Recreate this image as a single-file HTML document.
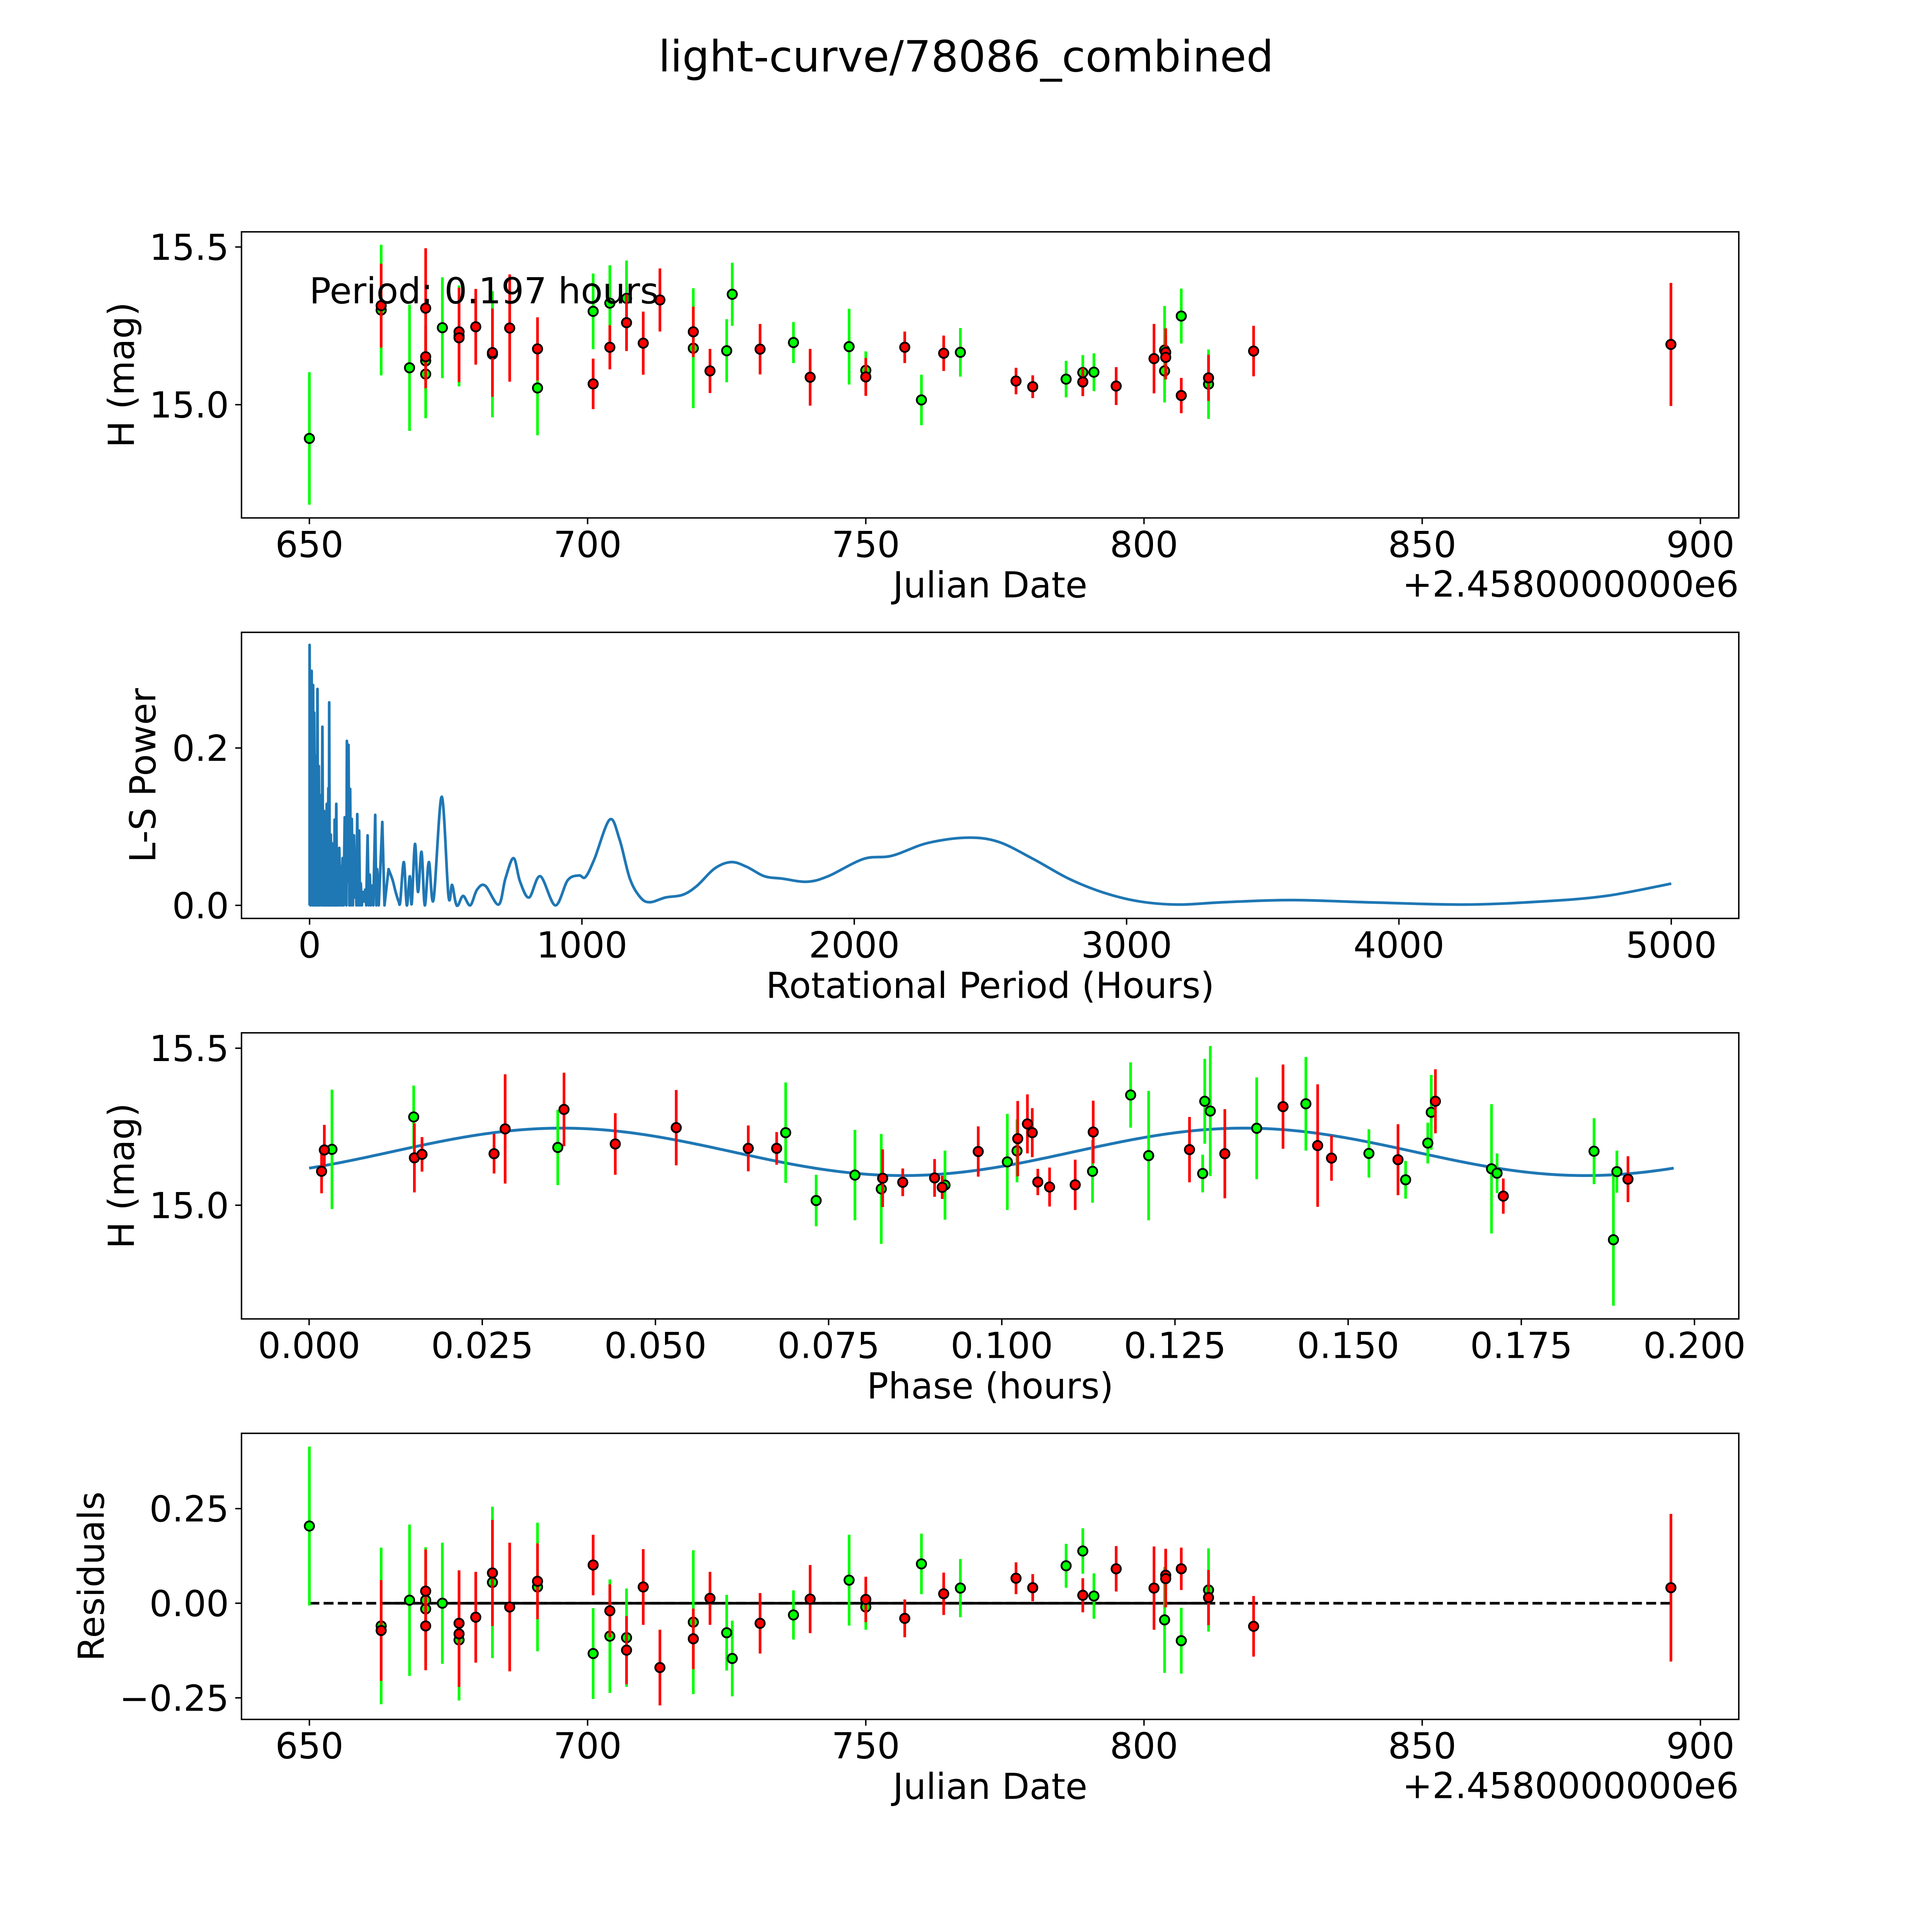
<!DOCTYPE html>
<html><head><meta charset="utf-8"><title>light-curve/78086_combined</title>
<style>
html,body{margin:0;padding:0;background:#fff;overflow:hidden;width:100%;height:100%;}
svg{display:block;position:absolute;left:0;top:0;width:100vw;height:100vh;font-family:"DejaVu Sans","Liberation Sans",sans-serif;}
</style></head>
<body>
<svg id="fig" xmlns="http://www.w3.org/2000/svg" viewBox="0 0 5400 5400" preserveAspectRatio="none">
<rect x="0" y="0" width="5400" height="5400" fill="#fff"/>
<text x="2700" y="200" font-size="120" text-anchor="middle">light-curve/78086_combined</text>
</svg>
<script>
// ---------- Light curve data (Julian date offset, H mag, error) ----------
const lcGreenDay = [650,662.9,668,670.9,670.9,673.9,676.9,682.9,691,701,704,707,719,725,726,737,747,750,760,767,786,789,791,803.7,803.7,806.7,811.6];
const lcGreenMag = [14.893,15.30,15.117,15.139,15.097,15.244,15.218,15.16,15.053,15.296,15.322,15.337,15.179,15.171,15.35,15.197,15.184,15.109,15.015,15.166,15.081,15.102,15.103,15.173,15.107,15.281,15.065];
const lcGreenErr = [0.21,0.207,0.2,0.1,0.14,0.16,0.16,0.2,0.15,0.12,0.12,0.12,0.19,0.1,0.1,0.065,0.12,0.06,0.08,0.077,0.058,0.055,0.06,0.14,0.1,0.087,0.11];
const lcRedDay = [662.9,670.9,670.9,676.9,676.9,679.9,682.9,686,691,701,704,707,710,713,719,722,731,740,750,757,764,777,780,789,795,801.8,803.9,803.9,806.7,811.6,819.7,894.7];
const lcRedMag = [15.314,15.306,15.152,15.231,15.212,15.247,15.165,15.243,15.177,15.066,15.182,15.26,15.195,15.332,15.231,15.107,15.176,15.087,15.088,15.182,15.163,15.075,15.057,15.072,15.059,15.146,15.166,15.15,15.029,15.085,15.17,15.191];
const lcRedErr = [0.133,0.19,0.1,0.14,0.14,0.12,0.14,0.17,0.1,0.08,0.07,0.09,0.1,0.1,0.08,0.07,0.08,0.09,0.06,0.05,0.056,0.042,0.036,0.045,0.06,0.11,0.076,0.07,0.056,0.073,0.08,0.195];

// ---------- Periodogram data (period hours, L-S power) ----------
const lsPeriod = [0,0,3,7.6,10,13,15,17,20,24,26,29,31,34,37,41,44,47,50,53,56,58,60,63,66,69,71,72,74,78,80,82,86,88,90,92,95,98,101,104,106,109,113,116,119,121,125,129,131,134,135,137,140,143,146,149,152,155,159,163,167,170,172,175,179,182,185,188,192,196,200,204,208,213,217,221,225,229,234,241,245,248,254,267,275,
290,305,316,327,333,346,357,368,375,387,398,411,423,438,455,485,510,523,536,545,564,590,615,645,694,719,749,773,806,847,902,948,989,1013,1046,1102,1138,1176,1215,1250,1307,1371,1423,1488,1548,1605,1670,1735,1826,1904,2034,2138,2267,2410,2527,2657,2787,2917,3047,3190,3359,3605,3904,4241,4527,4761,5000];
const lsPower = [0,0.331,0,0.298,0,0.28,0,0.245,0,0.19,0,0.275,0,0.177,0,0.14,0,0.227,0,0.12,0,0.097,0,0.129,0,0.149,0,0.258,0,0.09,0,0.079,0,0.06,0,0.109,0,0.129,0,0.05,0,0.073,0,0.05,0,0.06,0,0.112,0.02,0.03,0,0.209,0.03,0.204,0,0.148,0,0.110,0,0.089,0.01,0.03,0,0.116,0,0.095,0,0.028,0,0.017,0.005,0.02,0,0.089,0,0.039,0,0.025,0,0.115,0,0.046,0,0.106,0,
0.046,0.032,0.017,0.005,0.005,0.055,0,0.037,0.002,0.078,0.017,0.068,0,0.055,0.007,0.138,0.012,0.026,0.004,0,0.012,0,0.02,0.025,0.001,0.034,0.060,0.030,0.010,0.037,0,0.032,0.038,0.036,0.059,0.109,0.084,0.034,0.010,0.004,0.010,0.0135,0.025,0.047,0.055,0.049,0.037,0.034,0.030,0.037,0.059,0.063,0.079,0.086,0.081,0.059,0.034,0.016,0.005,0.001,0.004,0.0067,0.0037,0.001,0.005,0.012,0.0276];
const lsSmoothFrom = 85; // index where the smooth (long-period) section begins

// ---------- Phased data (phase hours, H mag, error) ----------
const phGreenPhase = [0.0033,0.0151,0.0359,0.0688,0.0732,0.0788,0.0826,0.0918,0.1008,0.1022,0.1131,0.1186,0.1212,0.129,0.1293,0.1301,0.1368,0.1439,0.153,0.1583,0.1615,0.162,0.1707,0.1715,0.1855,0.1883,0.1888];
const phGreenMag = [15.178,15.281,15.184,15.231,15.015,15.096,15.052,15.064,15.138,15.173,15.108,15.351,15.158,15.101,15.331,15.300,15.245,15.323,15.165,15.081,15.198,15.296,15.116,15.102,15.172,14.89,15.107];
const phGreenErr = [0.19,0.1,0.12,0.16,0.082,0.144,0.175,0.11,0.153,0.1,0.1,0.104,0.206,0.06,0.135,0.207,0.162,0.149,0.077,0.06,0.065,0.119,0.206,0.063,0.105,0.21,0.067];
const phRedPhase = [0.0018,0.0022,0.0152,0.0163,0.0267,0.0283,0.0368,0.0442,0.053,0.0634,0.0675,0.0828,0.0857,0.0903,0.0914,0.0966,0.1023,0.1037,0.1044,0.1052,0.1069,0.1106,0.1132,0.1271,0.1322,0.1406,0.1456,0.1476,0.1572,0.1626,0.1724,0.1904];
const phRedMag = [15.108,15.176,15.151,15.162,15.164,15.243,15.305,15.195,15.247,15.181,15.181,15.086,15.073,15.087,15.057,15.171,15.212,15.259,15.231,15.074,15.058,15.065,15.233,15.177,15.164,15.314,15.19,15.15,15.145,15.331,15.029,15.083];
const phRedErr = [0.07,0.08,0.11,0.055,0.063,0.174,0.117,0.098,0.12,0.073,0.052,0.092,0.044,0.06,0.037,0.08,0.12,0.094,0.078,0.042,0.062,0.08,0.1,0.104,0.142,0.134,0.195,0.072,0.113,0.102,0.056,0.073];
// fitted model parameters: [mean mag, amplitude, phase of peak, model period, max phase]
const fitParams = [15.17,0.0755,0.0365,0.0985,0.197];

// ---------- Residuals ----------
const resGreenDay = [650,662.9,668,670.9,670.9,673.9,676.9,682.9,691,701,704,707,719,725,726,737,747,750,760,767,786,789,791,803.7,806.7,811.6];
const resGreenVal = [0.204,-0.060,0.008,0.008,-0.015,0.0,-0.097,0.055,0.043,-0.133,-0.087,-0.091,-0.050,-0.078,-0.146,-0.031,0.061,-0.010,0.104,0.040,0.099,0.138,0.019,-0.044,-0.099,0.035];
const resGreenErr = [0.21,0.207,0.2,0.14,0.14,0.16,0.16,0.2,0.17,0.12,0.15,0.13,0.19,0.1,0.1,0.065,0.12,0.06,0.08,0.077,0.058,0.06,0.06,0.14,0.087,0.11];
const resRedDay = [662.9,670.9,670.9,676.9,676.9,679.9,682.9,686,691,701,704,707,710,713,719,722,731,740,750,757,764,777,780,789,795,801.8,803.9,803.9,806.7,811.6,819.7,894.7];
const resRedVal = [-0.072,0.032,-0.060,-0.053,-0.081,-0.037,0.080,-0.010,0.058,0.101,-0.020,-0.124,0.043,-0.170,-0.094,0.013,-0.053,0.011,0.010,-0.040,0.025,0.066,0.041,0.021,0.091,0.040,0.074,0.065,0.091,0.015,-0.061,0.041];
const resRedErr = [0.133,0.11,0.117,0.14,0.14,0.12,0.14,0.17,0.1,0.08,0.07,0.09,0.1,0.1,0.08,0.07,0.08,0.09,0.06,0.05,0.056,0.042,0.036,0.045,0.06,0.11,0.07,0.076,0.056,0.073,0.08,0.195];

// ---------- Axis ticks ----------
const jdTicks = [650,700,750,800,850,900];
const jdTickLabels = ["650","700","750","800","850","900"];
const magTicks = [15.0,15.5];
const magTickLabels = ["15.0","15.5"];
const lsXTicks = [0,1000,2000,3000,4000,5000];
const lsXTickLabels = ["0","1000","2000","3000","4000","5000"];
const lsYTicks = [0,0.2];
const lsYTickLabels = ["0.0","0.2"];
const phTicks = [0,0.025,0.05,0.075,0.1,0.125,0.15,0.175,0.2];
const phTickLabels = ["0.000","0.025","0.050","0.075","0.100","0.125","0.150","0.175","0.200"];
const resTicks = [-0.25,0,0.25];
const resTickLabels = ["\u22120.25","0.00","0.25"];

const NS = "http://www.w3.org/2000/svg";
const svg = document.getElementById("fig");
function mk(tag, attrs, parent){
  const e = document.createElementNS(NS, tag);
  for (const k in attrs) e.setAttribute(k, attrs[k]);
  (parent||svg).appendChild(e);
  return e;
}
function scale(d0,d1,p0,p1){ return v => p0 + (v-d0)/(d1-d0)*(p1-p0); }

const L = 675, R = 4860;
function makeAxes(name, top, bottom, xr, yr){
  const g = mk("g", {});
  
  
  return {g, top, bottom, sx: scale(xr[0],xr[1],L,R), sy: scale(yr[0],yr[1],bottom,top)};
}
function drawFrame(ax, name, xt, xl, yt, yl, xlabel, ylabel, ylabelX){
  const fr = mk("rect", {x:L, y:ax.top, width:R-L, height:ax.bottom-ax.top, fill:"none", stroke:"#000", "stroke-width":4}, ax.g);
  
  
  xt.forEach((v,i)=>{
    const x = ax.sx(v);
    const t = mk("line", {x1:x, x2:x, y1:ax.bottom, y2:ax.bottom+17.5, stroke:"#000", "stroke-width":4}, ax.g);
    
    
    const tl = mk("text", {x:x, y:ax.bottom+109, "font-size":100, "text-anchor":"middle"}, ax.g);
    tl.textContent = xl[i];
    
    
  });
  yt.forEach((v,i)=>{
    const y = ax.sy(v);
    const t = mk("line", {x1:L-17.5, x2:L, y1:y, y2:y, stroke:"#000", "stroke-width":4}, ax.g);
    
    
    const tl = mk("text", {x:L-35, y:y+36, "font-size":100, "text-anchor":"end"}, ax.g);
    tl.textContent = yl[i];
    
    
  });
  const xlab = mk("text", {x:(L+R)/2, y:ax.bottom+222, "font-size":100, "text-anchor":"middle"}, ax.g);
  xlab.textContent = xlabel;
  
  
  const cy = (ax.top+ax.bottom)/2;
  const ylab = mk("text", {x:ylabelX, y:cy, "font-size":100, "text-anchor":"middle", transform:"rotate(-90 "+ylabelX+" "+cy+")"}, ax.g);
  ylab.textContent = ylabel;
  
  
}
function drawErrSeries(ax, name, xs, ys, es, color){
  const g = mk("g", {}, ax.g);
  
  
  xs.forEach((v,i)=>{
    const x = ax.sx(v);
    const l = mk("line", {x1:x, x2:x, y1:ax.sy(ys[i]-es[i]), y2:ax.sy(ys[i]+es[i]), stroke:color, "stroke-width":7.5}, g);
    
    
  });
  xs.forEach((v,i)=>{
    const c = mk("circle", {cx:ax.sx(v), cy:ax.sy(ys[i]), r:13, fill:color, stroke:"#000", "stroke-width":5}, g);
    
    
  });
}
function offsetText(ax){
  const t = mk("text", {x:R, y:ax.bottom+220, "font-size":100, "text-anchor":"end"}, ax.g);
  t.textContent = "+2.4580000000e6";
  
  
}

// ---- Panel 1: light curve ----
const a1 = makeAxes("light-curve-panel", 648, 1447.6, [637.8,906.9], [14.641,15.548]);
drawFrame(a1, "light-curve", jdTicks, jdTickLabels, magTicks, magTickLabels, "Julian Date", "H (mag)", 374);
offsetText(a1);
drawErrSeries(a1, "green-observations", lcGreenDay, lcGreenMag, lcGreenErr, "#00ff00");
drawErrSeries(a1, "red-observations", lcRedDay, lcRedMag, lcRedErr, "#ff0000");
const per = mk("text", {x:a1.sx(650), y:848, "font-size":100}, a1.g);
per.textContent = "Period: 0.197 hours";



// ---- Panel 2: periodogram ----
const a2 = makeAxes("periodogram-panel", 1767.4, 2567, [-250,5248], [-0.0166,0.347]);
drawFrame(a2, "periodogram", lsXTicks, lsXTickLabels, lsYTicks, lsYTickLabels, "Rotational Period (Hours)", "L-S Power", 434);
(function(){
  const px = lsPeriod.map(v=>a2.sx(v)), py = lsPower.map(v=>a2.sy(v));
  let d = "M" + px[0] + " " + py[0];
  for (let i=1;i<=lsSmoothFrom;i++) d += " L" + px[i] + " " + py[i];
  for (let i=lsSmoothFrom;i<px.length-1;i++){
    const p0x = px[Math.max(i-1,lsSmoothFrom)], p0y = py[Math.max(i-1,lsSmoothFrom)];
    const p3x = px[Math.min(i+2,px.length-1)], p3y = py[Math.min(i+2,px.length-1)];
    const c1x = px[i] + (px[i+1]-p0x)/6, c1y = py[i] + (py[i+1]-p0y)/6;
    const c2x = px[i+1] - (p3x-px[i])/6, c2y = py[i+1] - (p3y-py[i])/6;
    d += " C" + c1x + " " + c1y + " " + c2x + " " + c2y + " " + px[i+1] + " " + py[i+1];
  }
  const p = mk("path", {d:d, fill:"none", stroke:"#1f77b4", "stroke-width":7.5, "stroke-linejoin":"round"}, a2.g);
  
  
})();

// ---- Panel 3: phased ----
const a3 = makeAxes("phase-panel", 2886.8, 3686.4, [-0.00976,0.2064], [14.638,15.549]);
drawFrame(a3, "phase", phTicks, phTickLabels, magTicks, magTickLabels, "Phase (hours)", "H (mag)", 374);
(function(){
  let d = "";
  const n = 300;
  for (let i=0;i<=n;i++){
    const ph = fitParams[4]*i/n;
    const m = fitParams[0] + fitParams[1]*Math.cos(2*Math.PI*(ph-fitParams[2])/fitParams[3]);
    d += (i? " L":"M") + a3.sx(ph) + " " + a3.sy(m);
  }
  const p = mk("path", {d:d, fill:"none", stroke:"#1f77b4", "stroke-width":8}, a3.g);
  
  
})();
drawErrSeries(a3, "green-phased", phGreenPhase, phGreenMag, phGreenErr, "#00ff00");
drawErrSeries(a3, "red-phased", phRedPhase, phRedMag, phRedErr, "#ff0000");

// ---- Panel 4: residuals ----
const a4 = makeAxes("residuals-panel", 4006.2, 4805.8, [637.8,906.9], [-0.307,0.449]);
drawFrame(a4, "residuals", jdTicks, jdTickLabels, resTicks, resTickLabels, "Julian Date", "Residuals", 290);
offsetText(a4);
const allDays = resGreenDay.concat(resRedDay);
const dMin = Math.min.apply(null, allDays), dMax = Math.max.apply(null, allDays);
const zl = mk("line", {x1:a4.sx(dMin), x2:a4.sx(dMax), y1:a4.sy(0), y2:a4.sy(0), stroke:"#000", "stroke-width":7.5, "stroke-dasharray":"27.75 12"}, a4.g);


const zl2 = mk("line", {x1:a4.sx(662.9), x2:a4.sx(811.6), y1:a4.sy(0), y2:a4.sy(0), stroke:"#000", "stroke-width":7.5}, a4.g);


drawErrSeries(a4, "green-residuals", resGreenDay, resGreenVal, resGreenErr, "#00ff00");
drawErrSeries(a4, "red-residuals", resRedDay, resRedVal, resRedErr, "#ff0000");
</script>
</body></html>
